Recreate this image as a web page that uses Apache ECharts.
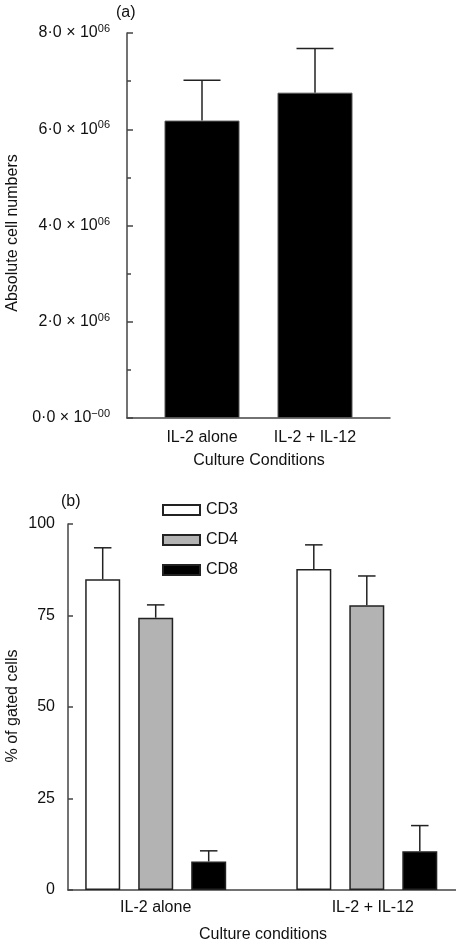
<!DOCTYPE html>
<html><head><meta charset="utf-8">
<script src="https://cdn.jsdelivr.net/npm/echarts@6/dist/echarts.min.js"></script>
<style>html,body{margin:0;padding:0;background:#fff}#c{width:456px;height:944px}</style>
</head><body><div id="c"></div>
<script>
// ---- Data (a) ----
const categoriesA = ['IL-2 alone', 'IL-2 + IL-12'];
const cellNumbers = [6.18e6, 6.76e6];
const cellErrors = [0.84e6, 0.92e6];
const tickMantissaA = ['0·0', '2·0', '4·0', '6·0', '8·0'];
const tickExponentA = ['−00', '06', '06', '06', '06'];
// ---- Data (b) ----
const categoriesB = ['IL-2 alone', 'IL-2 + IL-12'];
const seriesNamesB = ['CD3', 'CD4', 'CD8'];
const cd3 = [84.9, 87.7];
const cd3Err = [8.6, 6.6];
const cd4 = [74.4, 77.8];
const cd4Err = [3.5, 8.0];
const cd8 = [7.8, 10.6];
const cd8Err = [2.9, 7.0];
const tickLabelsB = ['0', '25', '50', '75', '100'];

const FONT = '"Liberation Sans", Arial, Helvetica, sans-serif';
const AX = '#444';
const FS = 16;
const chart = echarts.init(document.getElementById('c'));

const barWA = 75, barWB = 35, gapB = 18;

function errSeries(values, errs, xIdx, yIdx, offset, capW) {
  return {
    type: 'custom', xAxisIndex: xIdx, yAxisIndex: yIdx, z: 1, clip: false,
    data: values.map((v, i) => [i, v, v + errs[i]]),
    renderItem: function (params, api) {
      const b = api.coord([api.value(0), api.value(1)]);
      const t = api.coord([api.value(0), api.value(2)]);
      const x = b[0] + offset;
      return {
        type: 'group', children: [
          { type: 'line', shape: { x1: x, y1: b[1], x2: x, y2: t[1] }, style: { stroke: '#222', lineWidth: 1.5 } },
          { type: 'line', shape: { x1: x - capW / 2, y1: t[1], x2: x + capW / 2, y2: t[1] }, style: { stroke: '#222', lineWidth: 1.5 } }
        ]
      };
    }
  };
}

const option = {
  animation: false,
  textStyle: { fontFamily: FONT, color: '#111' },
  grid: [
    { left: 127, top: 33, width: 263, height: 385 },   // frame a
    { left: 145.5, top: 33, width: 226, height: 385 }, // bars a
    { left: 68, top: 524, width: 388, height: 366 },   // frame b
    { left: 155.7, top: 524, width: 211.1, height: 366 }  // bars b (category points at edges)
  ],
  xAxis: [
    { type: 'value', gridIndex: 0, min: 0, max: 1, axisLine: { show: true, lineStyle: { color: AX, width: 1.5 } }, axisTick: { show: false }, axisLabel: { show: false }, splitLine: { show: false } },
    { type: 'category', gridIndex: 1, data: categoriesA, axisLine: { show: false }, axisTick: { show: false },
      axisLabel: { margin: 12, fontSize: FS, color: '#111', fontFamily: FONT } },
    { type: 'value', gridIndex: 2, min: 0, max: 1, axisLine: { show: true, lineStyle: { color: AX, width: 1.5 } }, axisTick: { show: false }, axisLabel: { show: false }, splitLine: { show: false } },
    { type: 'category', gridIndex: 3, boundaryGap: false, data: [categoriesB[0], { value: categoriesB[1], textStyle: { padding: [0, 0, 0, 12] } }], axisLine: { show: false }, axisTick: { show: false },
      axisLabel: { margin: 10, fontSize: FS, color: '#111', fontFamily: FONT } }
  ],
  yAxis: [
    { type: 'value', gridIndex: 0, min: 0, max: 8e6, interval: 2e6,
      axisLine: { show: true, lineStyle: { color: AX, width: 1.5 } },
      axisTick: { show: true, inside: true, length: 6, lineStyle: { color: AX, width: 1.5 } },
      minorTick: { show: true, splitNumber: 2, length: 4, lineStyle: { color: AX, width: 1.5 } },
      splitLine: { show: false },
      axisLabel: { margin: 17, fontSize: FS, color: '#111', fontFamily: FONT,
        formatter: function (v) { const i = Math.round(v / 2e6); return '{m|' + tickMantissaA[i] + ' × 10}{e|' + tickExponentA[i] + '}'; },
        rich: { m: { fontSize: FS, fontFamily: FONT, color: '#111' }, e: { fontSize: 11, fontFamily: FONT, color: '#111', verticalAlign: 'top', padding: [0, 0, 8, 0] } } } },
    { type: 'value', gridIndex: 1, min: 0, max: 8e6, show: false },
    { type: 'value', gridIndex: 2, min: 0, max: 100, interval: 25,
      axisLine: { show: true, lineStyle: { color: AX, width: 1.5 } },
      axisTick: { show: true, inside: true, length: 5, lineStyle: { color: AX, width: 1.5 } },
      splitLine: { show: false },
      axisLabel: { margin: 13, fontSize: FS, color: '#111', fontFamily: FONT, formatter: function (v) { return tickLabelsB[Math.round(v / 25)]; } } },
    { type: 'value', gridIndex: 3, min: 0, max: 100, show: false }
  ],
  legend: {
    orient: 'vertical', left: 157, top: 497, itemWidth: 37, itemHeight: 10, itemGap: 14,
    textStyle: { fontSize: FS, fontFamily: FONT, color: '#111', padding: [0, 0, 0, 1] },
    data: seriesNamesB.map(n => ({ name: n, icon: 'rect' }))
  },
  series: [
    { type: 'bar', xAxisIndex: 1, yAxisIndex: 1, data: cellNumbers, barWidth: barWA, z: 2,
      itemStyle: { color: '#000', borderColor: '#555', borderWidth: 1 } },
    errSeries(cellNumbers, cellErrors, 1, 1, 0, 37),
    { name: 'CD3', type: 'bar', xAxisIndex: 3, yAxisIndex: 3, data: cd3, barWidth: barWB, barGap: (gapB / barWB * 100) + '%', z: 2, clip: false,
      itemStyle: { color: '#fff', borderColor: '#222', borderWidth: 1.5 } },
    { name: 'CD4', type: 'bar', xAxisIndex: 3, yAxisIndex: 3, data: cd4, barWidth: barWB, barGap: (gapB / barWB * 100) + '%', z: 2, clip: false,
      itemStyle: { color: '#b3b3b3', borderColor: '#222', borderWidth: 1.5 } },
    { name: 'CD8', type: 'bar', xAxisIndex: 3, yAxisIndex: 3, data: cd8, barWidth: barWB, barGap: (gapB / barWB * 100) + '%', z: 2, clip: false,
      itemStyle: { color: '#000', borderColor: '#222', borderWidth: 1.5 } },
    errSeries(cd3, cd3Err, 3, 3, -(barWB + gapB), 17.5),
    errSeries(cd4, cd4Err, 3, 3, 0, 17.5),
    errSeries(cd8, cd8Err, 3, 3, (barWB + gapB), 17.5)
  ],
  graphic: [
    { type: 'text', left: 116, top: 5, style: { text: '(a)', font: FS + 'px ' + FONT, fill: '#111' } },
    { type: 'text', left: 61, top: 494, style: { text: '(b)', font: FS + 'px ' + FONT, fill: '#111' } },
    { type: 'text', x: 13, y: 233, rotation: Math.PI / 2, style: { text: 'Absolute cell numbers', font: FS + 'px ' + FONT, fill: '#111', align: 'center', verticalAlign: 'middle' } },
    { type: 'text', x: 13, y: 706, rotation: Math.PI / 2, style: { text: '% of gated cells', font: FS + 'px ' + FONT, fill: '#111', align: 'center', verticalAlign: 'middle' } },
    { type: 'text', x: 259, y: 461, style: { text: 'Culture Conditions', font: FS + 'px ' + FONT, fill: '#111', align: 'center', verticalAlign: 'middle' } },
    { type: 'text', x: 263, y: 935, style: { text: 'Culture conditions', font: FS + 'px ' + FONT, fill: '#111', align: 'center', verticalAlign: 'middle' } }
  ]
};
chart.setOption(option);
</script></body></html>
